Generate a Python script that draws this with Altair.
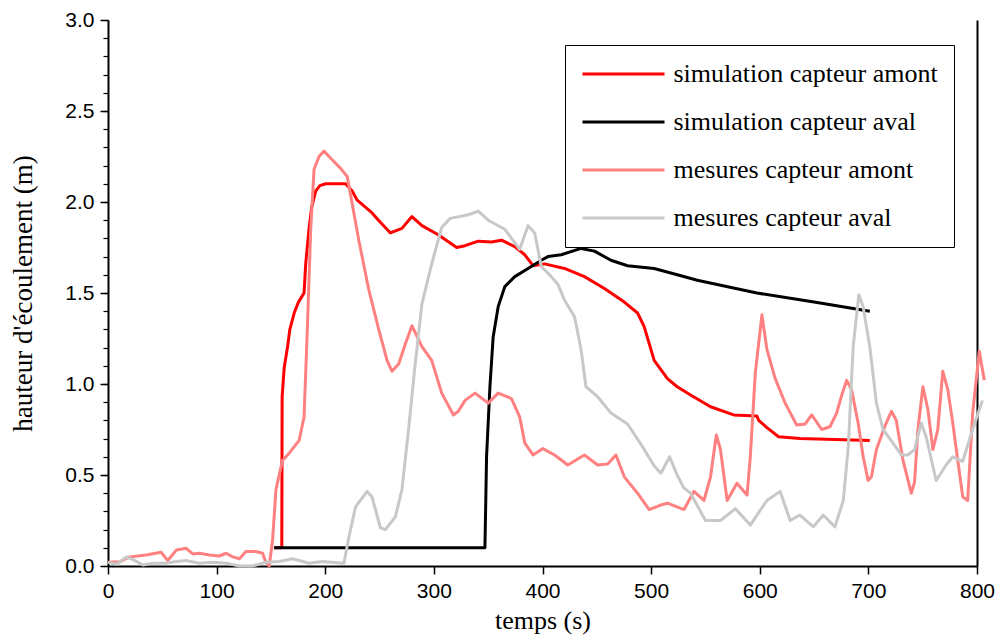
import altair as alt
import pandas as pd

SERIES = ["simulation capteur amont", "simulation capteur aval",
          "mesures capteur amont", "mesures capteur aval"]
COLORS = ["#ff0000", "#000000", "#ff8080", "#c8c8c8"]
WIDTHS = [3, 3, 3.5, 3.5]

X_TICKS = [0, 100, 200, 300, 400, 500, 600, 700, 800]
Y_TICKS = [0.0, 0.5, 1.0, 1.5, 2.0, 2.5, 3.0]
Y_MINOR = [round(0.1 * i, 1) for i in range(31)]

# simulation capteur amont
sim_amont_t = [153, 160, 160.3, 162.2, 165.2, 167.4, 171.4, 175.3, 180.5, 182, 185, 187.5,
               191.2, 195, 200.4, 218.7, 224.8, 229.4, 243.1, 249, 260, 270.6, 279.8, 289,
               304, 321, 328.7, 340.9, 352.9, 362.3, 374.5, 383.7, 391.3, 402, 420.3, 438.6,
               457, 475.3, 487.5, 493.6, 502.8, 515, 524, 536.3, 554.7, 576, 597.4, 599,
               606.6, 617.3, 637, 701.3]
sim_amont_h = [0.10, 0.10, 0.93, 1.09, 1.20, 1.30, 1.39, 1.45, 1.50, 1.66, 1.85, 1.97,
               2.06, 2.09, 2.10, 2.10, 2.06, 2.01, 1.94, 1.90, 1.83, 1.855, 1.92, 1.87,
               1.82, 1.75, 1.76, 1.785, 1.78, 1.79, 1.755, 1.71, 1.65, 1.66, 1.635, 1.59,
               1.525, 1.45, 1.39, 1.315, 1.13, 1.03, 0.985, 0.94, 0.875, 0.83, 0.824, 0.80,
               0.76, 0.71, 0.70, 0.69]

# simulation capteur aval
sim_aval_t = [153, 347, 348.5, 351.6, 354.6, 359.2, 365.3, 374.5, 386.7, 398.9, 405, 417.2,
              435.5, 447.8, 463, 478.3, 502.8, 524.1, 542.5, 597.4, 650, 701.3]
sim_aval_h = [0.10, 0.10, 0.60, 0.985, 1.26, 1.425, 1.535, 1.59, 1.635, 1.68, 1.70, 1.71,
              1.745, 1.73, 1.68, 1.65, 1.635, 1.60, 1.57, 1.50, 1.45, 1.40]

# mesures capteur amont
mes_amont_t = [0, 11, 20, 35, 49, 55, 63, 72, 78, 84, 93.5, 102.6, 108.7, 114.8, 121, 127,
               136, 142.3, 145.4, 148.4, 151.5, 154.6, 160.6, 166.8, 176, 180.5, 183.5,
               186.6, 189.7, 194.3, 198.8, 205, 214.1, 220.2, 224.8, 230.9, 240, 249.2,
               256.9, 261.4, 267.6, 273.7, 279.8, 289, 298, 307.2, 318, 322.5, 328.7,
               337.9, 350, 359.2, 371.4, 379, 383.7, 391.3, 400.4, 411.1, 423.3, 438.6,
               450.8, 460, 467.6, 475.3, 487.5, 498.2, 508.8, 515, 530.3, 539.4, 548.6,
               554.7, 560, 563.8, 570, 579, 588.3, 591.3, 595.9, 602, 606.6, 614.2, 623.4,
               634, 641.7, 647.8, 657, 664.6, 670.8, 675, 680, 684.5, 690.6, 695.2, 699.8,
               702.8, 707.4, 715, 721.2, 725.7, 731.9, 739.5, 742.5, 745.6, 750.2, 754.8,
               759.4, 763.9, 768.5, 773.1, 777.7, 782.3, 786.9, 791.4, 796, 802.1, 806.7]
mes_amont_h = [0.02, 0.024, 0.05, 0.06, 0.075, 0.03, 0.088, 0.097, 0.066, 0.07, 0.06, 0.055,
               0.07, 0.05, 0.04, 0.08, 0.08, 0.07, 0.02, 0.0, 0.14, 0.42, 0.58, 0.62, 0.69,
               0.82, 1.30, 1.85, 2.18, 2.25, 2.28, 2.24, 2.185, 2.14, 1.99, 1.79, 1.52, 1.30,
               1.13, 1.07, 1.11, 1.22, 1.32, 1.205, 1.13, 0.95, 0.83, 0.85, 0.91, 0.95, 0.895,
               0.95, 0.92, 0.82, 0.675, 0.61, 0.645, 0.61, 0.555, 0.61, 0.555, 0.56, 0.61,
               0.49, 0.40, 0.31, 0.335, 0.345, 0.31, 0.41, 0.36, 0.49, 0.72, 0.64, 0.36,
               0.455, 0.39, 0.60, 1.06, 1.38, 1.19, 1.03, 0.895, 0.775, 0.78, 0.83, 0.75,
               0.765, 0.84, 0.93, 1.02, 0.97, 0.785, 0.60, 0.47, 0.49, 0.64, 0.765, 0.85,
               0.80, 0.58, 0.40, 0.46, 0.75, 0.985, 0.86, 0.64, 0.75, 1.07, 0.97, 0.785,
               0.58, 0.38, 0.36, 0.84, 1.18, 1.02]

# mesures capteur aval
mes_aval_t = [0, 8, 17, 23, 32.3, 41, 53, 63, 72, 84, 96, 109, 121, 133, 145, 157.6, 169.8,
              176, 185, 197.3, 217.2, 221.8, 227.9, 238.5, 243, 250.8, 255.4, 264.5, 270.6,
              276.7, 282.8, 289, 298, 307.2, 315, 331.7, 340.9, 350, 365.3, 379, 386.7,
              392.8, 398.9, 405, 414, 420.3, 429.5, 435.5, 440, 450.8, 463, 478.3, 490.5,
              502.8, 509, 517, 524, 530, 536.3, 550, 563.8, 577.6, 591.3, 606.6, 618.8, 628,
              637, 649.3, 658.5, 669.2, 676.9, 681.5, 686, 691.2, 695.2, 701.3, 707.4,
              713.5, 722.7, 730.3, 736.4, 742.5, 748.6, 753.2, 762.4, 771.6, 777.7, 786.8,
              796, 805]
mes_aval_h = [0.02, 0.01, 0.05, 0.035, 0.005, 0.015, 0.015, 0.025, 0.03, 0.015, 0.02, 0.015,
              0.0, 0.0, 0.02, 0.025, 0.04, 0.03, 0.015, 0.025, 0.015, 0.16, 0.325, 0.41, 0.38,
              0.21, 0.20, 0.27, 0.42, 0.75, 1.11, 1.44, 1.66, 1.86, 1.91, 1.93, 1.95, 1.90,
              1.85, 1.74, 1.87, 1.83, 1.645, 1.61, 1.55, 1.46, 1.37, 1.19, 0.985, 0.93, 0.84,
              0.78, 0.67, 0.55, 0.51, 0.60, 0.50, 0.43, 0.40, 0.25, 0.25, 0.315, 0.225, 0.36,
              0.41, 0.25, 0.28, 0.215, 0.28, 0.215, 0.36, 0.655, 1.205, 1.49, 1.425, 1.205,
              0.895, 0.75, 0.675, 0.61, 0.61, 0.64, 0.785, 0.71, 0.47, 0.555, 0.60, 0.575,
              0.75, 0.91]

rows = []
for name, ts, hs in [(SERIES[0], sim_amont_t, sim_amont_h),
                     (SERIES[1], sim_aval_t, sim_aval_h),
                     (SERIES[2], mes_amont_t, mes_amont_h),
                     (SERIES[3], mes_aval_t, mes_aval_h)]:
    for i, (t, h) in enumerate(zip(ts, hs)):
        rows.append({"serie": name, "t": t, "h": h, "i": i})
df = pd.DataFrame(rows)
frame_df = pd.DataFrame({"t": [0, 800], "h": [0, 3]})

xscale = alt.Scale(domain=[0, 800], nice=False, zero=False)
yscale = alt.Scale(domain=[0, 3], nice=False)

lines = alt.Chart(df).mark_line(strokeJoin="round").encode(
    x=alt.X("t:Q", scale=xscale, axis=alt.Axis(
        orient="bottom", values=X_TICKS, title="temps (s)", grid=False, tickSize=8,
        tickWidth=1.5, tickColor="black", domainColor="black", domainWidth=2,
        labelFont="Liberation Sans", labelFontSize=21, labelColor="black", labelPadding=6,
        labelFlush=False, labelOverlap=False,
        titleFont="Liberation Serif", titleFontSize=26, titleFontWeight="normal",
        titleColor="black", titlePadding=6)),
    y=alt.Y("h:Q", scale=yscale, axis=alt.Axis(
        orient="left", values=Y_TICKS, format=".1f", title="hauteur d'écoulement (m)",
        grid=False, tickSize=8, tickWidth=1.5, tickColor="black", domainColor="black",
        domainWidth=2, labelFont="Liberation Sans", labelFontSize=21, labelColor="black",
        labelPadding=6, labelFlush=False, labelOverlap=False,
        titleFont="Liberation Serif", titleFontSize=27,
        titleFontWeight="normal", titleColor="black", titlePadding=27)),
    color=alt.Color("serie:N", scale=alt.Scale(domain=SERIES, range=COLORS),
                    legend=alt.Legend(
                        title=None, orient="none", legendX=457, legendY=25,
                        symbolType="M-4.1,0H4.1", symbolSize=400, symbolStrokeWidth=3,
                        symbolOffset=29.5, labelOffset=37,
                        labelFont="Liberation Serif", labelFontSize=26, labelColor="black",
                        labelLimit=500, padding=16, rowPadding=22,
                        strokeColor="black", fillColor="white")),
    strokeWidth=alt.StrokeWidth("serie:N", scale=alt.Scale(domain=SERIES, range=WIDTHS),
                                legend=None),
    order="i:Q",
)

minor = alt.Chart(frame_df).mark_point(opacity=0).encode(
    x=alt.X("t:Q", scale=xscale, axis=None),
    y=alt.Y("h:Q", scale=yscale, axis=alt.Axis(
        orient="left", values=Y_MINOR, labels=False, domain=False, grid=False,
        tickSize=5, tickWidth=1.2, tickColor="black", title=None)),
)

right = alt.Chart(frame_df).mark_point(opacity=0).encode(
    x=alt.X("t:Q", scale=xscale, axis=None),
    y=alt.Y("h:Q", scale=yscale, axis=alt.Axis(
        orient="right", labels=False, ticks=False, grid=False, domain=True,
        domainColor="black", domainWidth=2, title=None)),
)

chart = alt.layer(lines, minor, right).resolve_axis(
    x="independent", y="independent"
).properties(
    width=869, height=546,
    autosize=alt.AutoSizeParams(type="none"),
    padding={"left": 100, "top": 12, "right": 18, "bottom": 70},
    background="white",
).configure_view(stroke=None)

chart.save("out.html", embed_options={"renderer": "svg", "actions": False})
